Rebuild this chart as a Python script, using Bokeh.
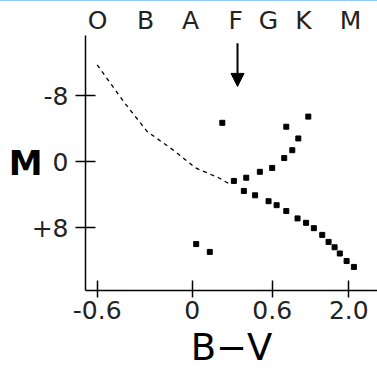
from bokeh.plotting import figure
from bokeh.layouts import column
from bokeh.models import Range1d, FixedTicker, LinearAxis, Arrow, NormalHead, Div
from bokeh.embed import file_html
from bokeh.resources import INLINE

# ---- data (x in plot position units; tick labels give B-V) ----
bv_tick_pos = [-0.6, 0.0, 0.505, 0.989]
bv_tick_labels = ["-0.6", "0", "0.6", "2.0"]

spec_pos = [-0.598, -0.295, -0.011, 0.274, 0.482, 0.703, 1.0]
spec_labels = ["O", "B", "A", "F", "G", "K", "M"]

mag_ticks = [-8, 0, 8]
mag_labels = ["-8", "0", "+8"]

# upper main sequence (dashed)
zams_x = [-0.600, -0.421, -0.284, -0.118, 0.021, 0.166, 0.242]
zams_m = [-11.7, -6.95, -3.64, -1.39, 0.75, 1.93, 2.76]

# lower main sequence (dots)
ms_x = [0.326, 0.397, 0.482, 0.533, 0.594, 0.665, 0.719, 0.768, 0.821,
        0.861, 0.899, 0.932, 0.975, 1.021]
ms_m = [3.53, 4.06, 4.77, 5.25, 5.96, 6.85, 7.38, 8.03, 8.84,
        9.69, 10.34, 11.09, 12.00, 12.71]

# giant branch
gb_x = [0.263, 0.341, 0.427, 0.505, 0.581, 0.632, 0.670, 0.594, 0.733]
gb_m = [2.32, 1.93, 1.22, 0.75, -0.44, -1.39, -2.81, -4.23, -5.45]

# other stars (supergiant and white dwarfs)
other_x = [0.190, 0.025, 0.111]
other_m = [-4.70, 9.95, 10.90]

# arrow marking class F
arrow_x = 0.286
arrow_m_start = -14.3
arrow_m_end = -9.1

FONT = "DejaVu Sans"

p = figure(width=377, height=370, output_backend="svg", toolbar_location=None,
           x_range=Range1d(-0.674, 1.170), y_range=Range1d(15.56, -15.25),
           x_axis_type=None, y_axis_type=None,
           min_border_left=85, min_border_right=0, min_border_top=34,
           min_border_bottom=75)
p.outline_line_color = None
p.xgrid.visible = False
p.ygrid.visible = False
p.background_fill_color = "white"
p.border_fill_color = "white"

xaxis = LinearAxis(ticker=FixedTicker(ticks=bv_tick_pos),
                   major_label_overrides=dict(zip(bv_tick_pos, bv_tick_labels)))
xaxis.major_tick_in = 10
xaxis.major_tick_out = 7
xaxis.minor_tick_line_color = None
xaxis.axis_line_width = 1.5
xaxis.major_tick_line_width = 1.5
xaxis.major_label_text_font = FONT
xaxis.major_label_text_font_size = "25px"
xaxis.major_label_text_color = "#222222"
xaxis.major_label_standoff = 3
xaxis.axis_label = "B\u2212V"
xaxis.axis_label_text_font = FONT
xaxis.axis_label_text_font_size = "37px"
xaxis.axis_label_text_font_style = "normal"
xaxis.axis_label_text_color = "black"
xaxis.axis_label_standoff = 4
p.add_layout(xaxis, "below")

yaxis = LinearAxis(ticker=FixedTicker(ticks=mag_ticks),
                   major_label_overrides=dict(zip(mag_ticks, mag_labels)))
yaxis.major_tick_in = 10
yaxis.major_tick_out = 10
yaxis.minor_tick_line_color = None
yaxis.axis_line_width = 1.5
yaxis.major_tick_line_width = 1.5
yaxis.major_label_text_font = FONT
yaxis.major_label_text_font_size = "25px"
yaxis.major_label_text_color = "#222222"
yaxis.major_label_standoff = 7
yaxis.axis_label = "M"
yaxis.axis_label_orientation = "horizontal"
yaxis.axis_label_text_font = FONT
yaxis.axis_label_text_font_size = "34px"
yaxis.axis_label_text_font_style = "bold"
yaxis.axis_label_text_color = "black"
yaxis.axis_label_standoff = -14
p.add_layout(yaxis, "left")

taxis = LinearAxis(ticker=FixedTicker(ticks=spec_pos),
                   major_label_overrides=dict(zip(spec_pos, spec_labels)))
taxis.axis_line_color = None
taxis.major_tick_line_color = None
taxis.minor_tick_line_color = None
taxis.major_tick_in = 0
taxis.major_tick_out = 0
taxis.major_label_text_font = FONT
taxis.major_label_text_font_size = "25px"
taxis.major_label_text_color = "#222222"
taxis.major_label_standoff = 1
p.add_layout(taxis, "above")

p.line(zams_x, zams_m, line_color="black", line_width=1.3, line_dash="4 4")
p.scatter(ms_x, ms_m, marker="square", size=5, color="black")
p.scatter(gb_x, gb_m, marker="square", size=5, color="black")
p.scatter(other_x, other_m, marker="square", size=5, color="black")

p.add_layout(Arrow(end=NormalHead(size=13, fill_color="black", line_color="black"),
                   x_start=arrow_x, y_start=arrow_m_start,
                   x_end=arrow_x, y_end=arrow_m_end,
                   line_color="black", line_width=2))

top_rule = Div(width=377, height=1, margin=0,
               styles={"background-color": "#94c9ff"})
layout = column(top_rule, p, spacing=0)

open("out.html", "w").write(file_html(layout, INLINE))
